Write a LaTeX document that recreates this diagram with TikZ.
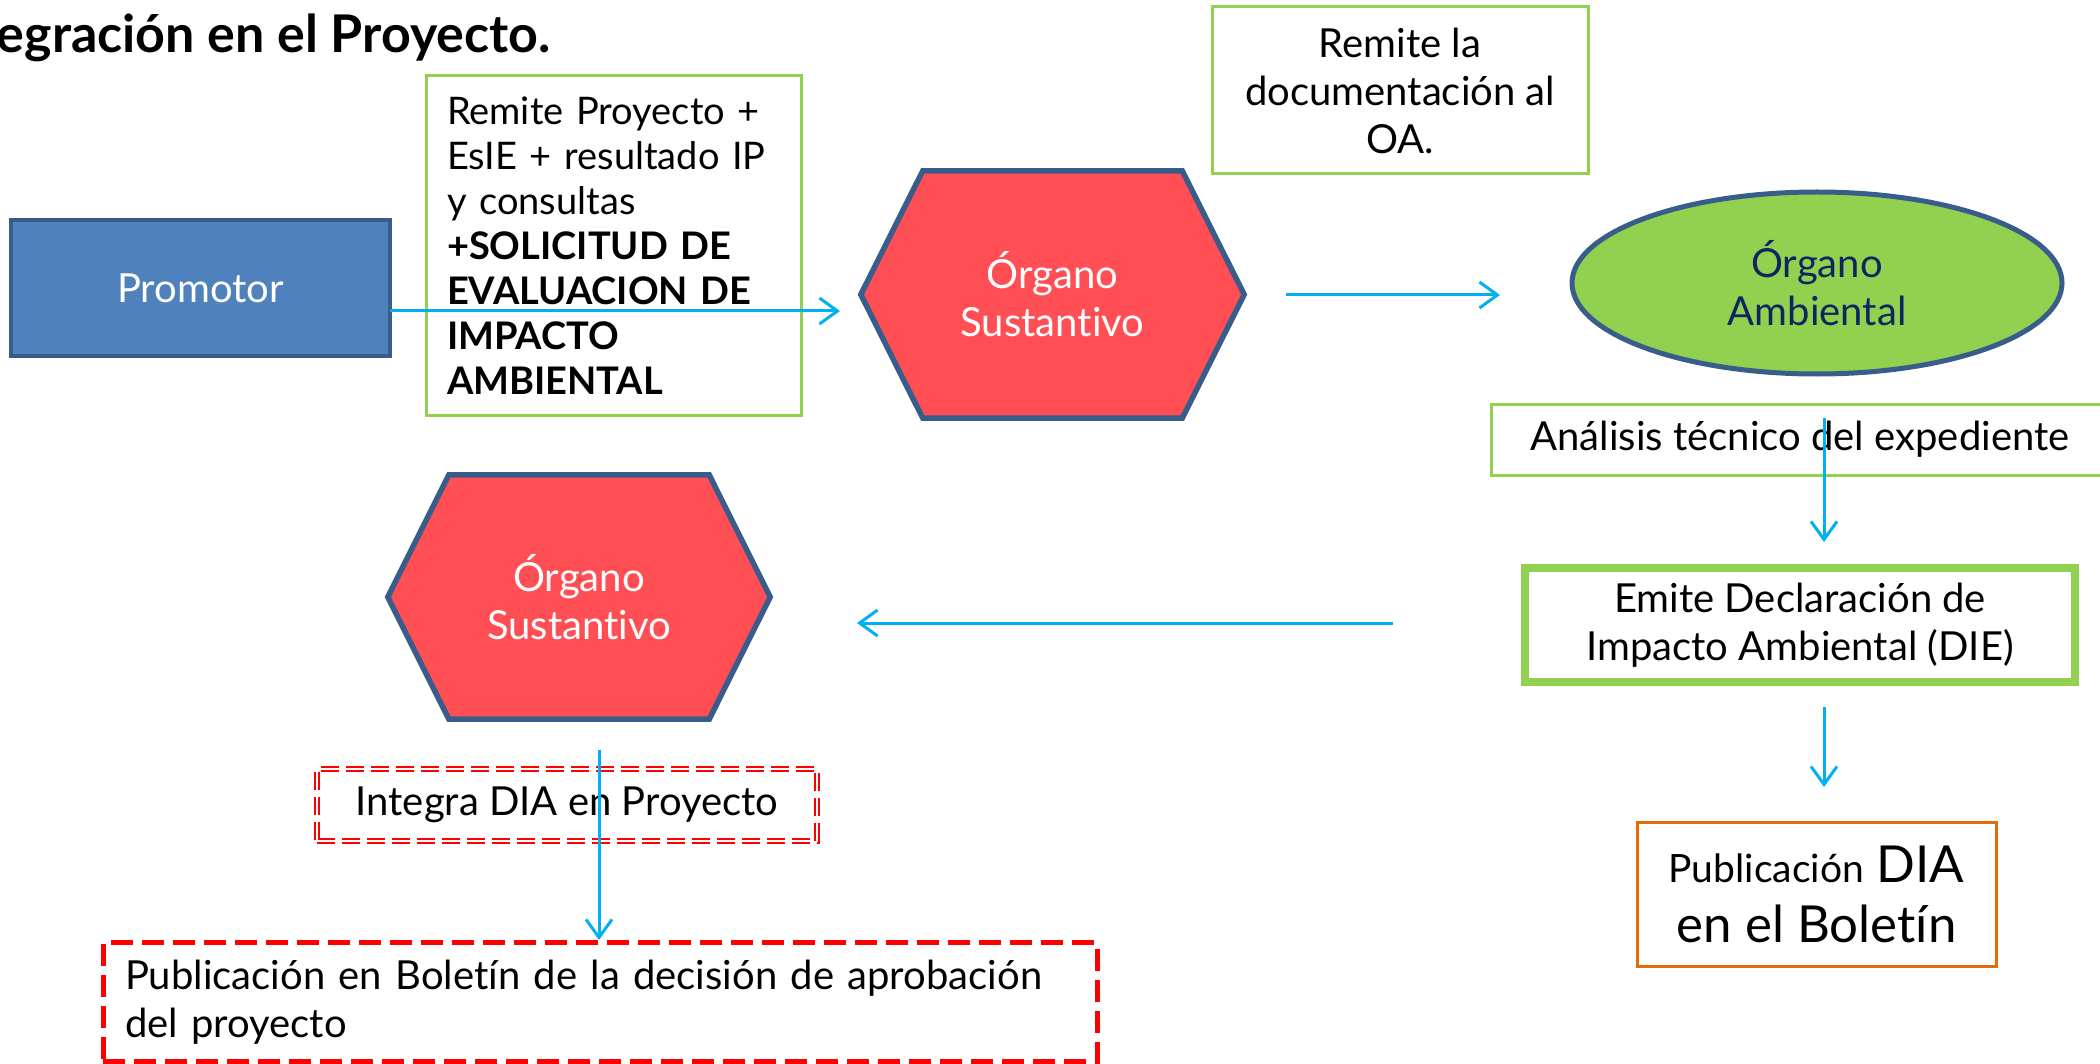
\documentclass[tikz,border=0pt]{standalone}
\usepackage{fontspec}
\setmainfont{Lato}[Ligatures=NoCommon]
\usetikzlibrary{arrows.meta,shapes.geometric,calc,backgrounds}
\definecolor{blueA}{HTML}{4F81BD}
\definecolor{borderB}{HTML}{385D8A}
\definecolor{redA}{HTML}{FF4F55}
\definecolor{greenA}{HTML}{92D050}
\definecolor{cyanA}{HTML}{00B0F0}
\definecolor{orangeA}{HTML}{E46C0A}
\definecolor{navyA}{HTML}{0F2560}
\definecolor{redD}{HTML}{FF0000}
\begin{document}
\begin{tikzpicture}[x=1pt,y=-1pt,
  txt/.style={font=\fontsize{40}{48}\selectfont, align=center, inner sep=0pt},
  arr/.style={draw=cyanA, line width=3pt, -{Straight Barb[length=18pt,width=26pt]}},
  gbox/.style={draw=greenA, line width=3pt, inner sep=0pt},
  hexline/.style={draw=borderB, fill=redA, line width=5.5pt, line join=miter},
]
\useasboundingbox (0,0) rectangle (2100,1064);

% title
\node[inner sep=0pt, anchor=base east, font=\bfseries\fontsize{52}{60}\selectfont] (title) at (551,53) {egración en el Proyecto.};

% Promotor
\node[txt, draw=borderB, fill=blueA, line width=4.5pt, minimum width=379pt, minimum height=136pt, text=white] (prom) at (200.5,288) {Promotor};

% Remite box
\node[gbox, txt, font=\fontsize{38}{45}\selectfont, minimum width=375pt, minimum height=339pt, text width=333pt, align=left] (remite) at (613.5,245.5)
  {Remite Proyecto +\\EsIE + resultado IP\\y consultas\\\textbf{+SOLICITUD DE}\\\textbf{EVALUACION DE}\\\textbf{IMPACTO}\\\textbf{AMBIENTAL}};

% Hexagon 1
\node[txt, text=white, minimum width=383pt, minimum height=247pt] (hexA) at (1052.5,294.5) {Órgano\\Sustantivo};
\begin{scope}[on background layer]
\draw[hexline] (hexA.west) -- ($(hexA.north west)+(62,0)$) -- ($(hexA.north east)+(-62,0)$) -- (hexA.east)
  -- ($(hexA.south east)+(-62,0)$) -- ($(hexA.south west)+(62,0)$) -- cycle;
\end{scope}

% Remite la documentacion
\node[gbox, txt, minimum width=376pt, minimum height=167pt] (doc) at (1400,90.5) {Remite la\\documentación al\\OA.};

% Organo Ambiental
\node[txt, ellipse, draw=borderB, fill=greenA, line width=5pt, minimum width=490pt, minimum height=182pt, text=navyA] (amb) at (1817,283) {Órgano\\Ambiental};

% Analisis tecnico
\node[gbox, txt, minimum width=618pt, minimum height=71pt] (anal) at (1800,439.5) {\raisebox{-4pt}{Análisis técnico del expediente}};

% Emite DIE
\node[txt, draw=greenA, line width=8pt, minimum width=550pt, minimum height=114pt] (emite) at (1800,625) {Emite Declaración de\\Impacto Ambiental (DIE)};

% Publicacion DIA
\node[txt, draw=orangeA, line width=3pt, minimum width=359pt, minimum height=144pt, font=\fontsize{51}{60}\selectfont] (pub) at (1816.5,894)
  {{\fontsize{39}{45}\selectfont Publicación} DIA\\ en el Boletín};

% Hexagon 2
\node[txt, text=white, minimum width=382pt, minimum height=244pt] (hexB) at (579,597) {Órgano\\Sustantivo};
\begin{scope}[on background layer]
\draw[hexline] (hexB.west) -- ($(hexB.north west)+(61,0)$) -- ($(hexB.north east)+(-61,0)$) -- (hexB.east)
  -- ($(hexB.south east)+(-61,0)$) -- ($(hexB.south west)+(61,0)$) -- cycle;
\end{scope}

% Integra DIA
\node[txt, draw=redD, line width=2pt, double=white, double distance=1.6pt, dash pattern=on 18pt off 7pt, minimum width=500pt, minimum height=72pt] (integra) at (567,805) {\raisebox{-4pt}{Integra DIA en Proyecto}};

% Publicacion en Boletin
\node[txt, draw=redD, line width=5pt, dash pattern=on 22pt off 9pt, minimum width=994pt, minimum height=119pt, text width=950pt, align=left] (bol) at (600,1002)
  {Publicación en Boletín de la decisión de aprobación\\del proyecto};

% connectors
\coordinate (a1s) at (390,311);
\coordinate (a1e) at (840,311);
\coordinate (a2s) at (1286,295);
\coordinate (a2e) at (1500,295);
\coordinate (a3s) at (1824,418);
\coordinate (a3e) at (1824,542);
\coordinate (a4s) at (1824,707);
\coordinate (a4e) at (1824,787);
\coordinate (a5s) at (1393,623);
\coordinate (a5e) at (857,623);
\coordinate (a6s) at (599,750);
\coordinate (a6e) at (599,940);
\draw[arr] (a1s) -- (a1e);
\draw[arr] (a2s) -- (a2e);
\draw[arr] (a3s) -- (a3e);
\draw[arr] (a4s) -- (a4e);
\draw[arr] (a5s) -- (a5e);
\draw[arr] (a6s) -- (a6e);
\end{tikzpicture}
\end{document}
